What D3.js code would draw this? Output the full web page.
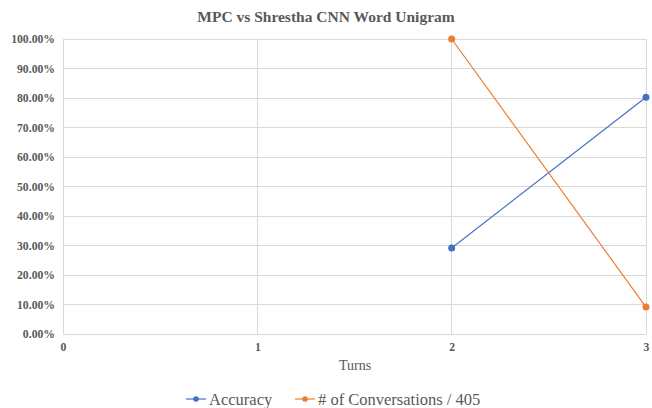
<!DOCTYPE html>
<html>
<head>
<meta charset="utf-8">
<script src="https://cdn.jsdelivr.net/npm/d3@7"></script>
<style>
  body { margin: 0; background: #fff; }
  svg text { font-family: 'Liberation Serif', 'Times New Roman', serif; }
</style>
</head>
<body>
<svg id="chart" width="652" height="408"></svg>
<script>
// Turns on the x axis
const turns = [2, 3];
const xTicks = [0, 1, 2, 3];
const yTicks = [0, 0.1, 0.2, 0.3, 0.4, 0.5, 0.6, 0.7, 0.8, 0.9, 1.0];

// Series values (fractions)
const accuracy = [0.2914, 0.8025];
const conversations = [1.0, 0.0914];

const seriesNames = ["Accuracy", "# of Conversations / 405"];
const seriesColors = ["#4472C4", "#ED7D31"];

const SERIF = "'Liberation Serif', 'Times New Roman', serif";
const svg = d3.select("#chart");
const margin = { left: 63, right: 6, top: 39, bottom: 74 };
const W = 652, H = 408;

const x = d3.scaleLinear().domain([0, 3]).range([margin.left, W - margin.right]);
const y = d3.scaleLinear().domain([0, 1]).range([H - margin.bottom, margin.top]);

// Title
svg.append("text")
  .attr("x", 326).attr("y", 22)
  .attr("text-anchor", "middle")
  .style("font-family", SERIF)
  .attr("font-size", 15.5).attr("font-weight", "bold")
  .attr("fill", "#595959")
  .text("MPC vs Shrestha CNN Word Unigram");

// Horizontal gridlines
svg.append("g").selectAll("line").data(yTicks).join("line")
  .attr("x1", x(0)).attr("x2", x(3))
  .attr("y1", d => y(d)).attr("y2", d => y(d))
  .attr("stroke", "#d9d9d9").attr("stroke-width", 1)
  .attr("shape-rendering", "crispEdges");

// Vertical gridlines
svg.append("g").selectAll("line").data(xTicks).join("line")
  .attr("x1", d => x(d)).attr("x2", d => x(d))
  .attr("y1", y(0)).attr("y2", y(1))
  .attr("stroke", "#d9d9d9").attr("stroke-width", 1)
  .attr("shape-rendering", "crispEdges");

// Y axis labels
const yAxis = d3.axisLeft(y).tickValues(yTicks).tickSize(0).tickPadding(8)
  .tickFormat(d => (d * 100).toFixed(2) + "%");
const gy = svg.append("g").attr("transform", `translate(${margin.left},0)`).call(yAxis);
gy.attr("font-family", null);
gy.select(".domain").remove();
gy.selectAll("text")
  .style("font-family", SERIF)
  .attr("font-size", 11.7).attr("font-weight", "bold").attr("fill", "#595959");

// X axis labels
const xAxis = d3.axisBottom(x).tickValues(xTicks).tickSize(0).tickPadding(9)
  .tickFormat(d3.format("d"));
const gx = svg.append("g").attr("transform", `translate(0,${y(0)})`).call(xAxis);
gx.attr("font-family", null);
gx.select(".domain").remove();
gx.selectAll("text")
  .style("font-family", SERIF)
  .attr("font-size", 11.7).attr("font-weight", "bold").attr("fill", "#595959");

// X axis title
svg.append("text")
  .attr("x", 355).attr("y", 370)
  .attr("text-anchor", "middle")
  .style("font-family", SERIF)
  .attr("font-size", 14).attr("fill", "#595959")
  .text("Turns");

// Lines and markers
const series = [accuracy, conversations];
const line = d3.line().x((d, i) => x(turns[i])).y(d => y(d));
series.forEach((vals, si) => {
  svg.append("path")
    .datum(vals)
    .attr("d", line)
    .attr("fill", "none")
    .attr("stroke", seriesColors[si])
    .attr("stroke-width", 1.2);
  svg.append("g").selectAll("circle").data(vals).join("circle")
    .attr("cx", (d, i) => x(turns[i]))
    .attr("cy", d => y(d))
    .attr("r", 3.5)
    .attr("fill", seriesColors[si]);
});

// Legend
const legendItems = [
  { x0: 186, name: seriesNames[0], color: seriesColors[0] },
  { x0: 295, name: seriesNames[1], color: seriesColors[1] }
];
const lg = svg.append("g");
legendItems.forEach(it => {
  lg.append("line")
    .attr("x1", it.x0).attr("x2", it.x0 + 20)
    .attr("y1", 399).attr("y2", 399)
    .attr("stroke", it.color).attr("stroke-width", 1.2);
  lg.append("circle")
    .attr("cx", it.x0 + 10).attr("cy", 399).attr("r", 2.8)
    .attr("fill", it.color);
  lg.append("text")
    .attr("x", it.x0 + 23).attr("y", 404.5)
    .style("font-family", SERIF)
    .attr("font-size", 16.5).attr("fill", "#595959")
    .text(it.name);
});
</script>
</body>
</html>
